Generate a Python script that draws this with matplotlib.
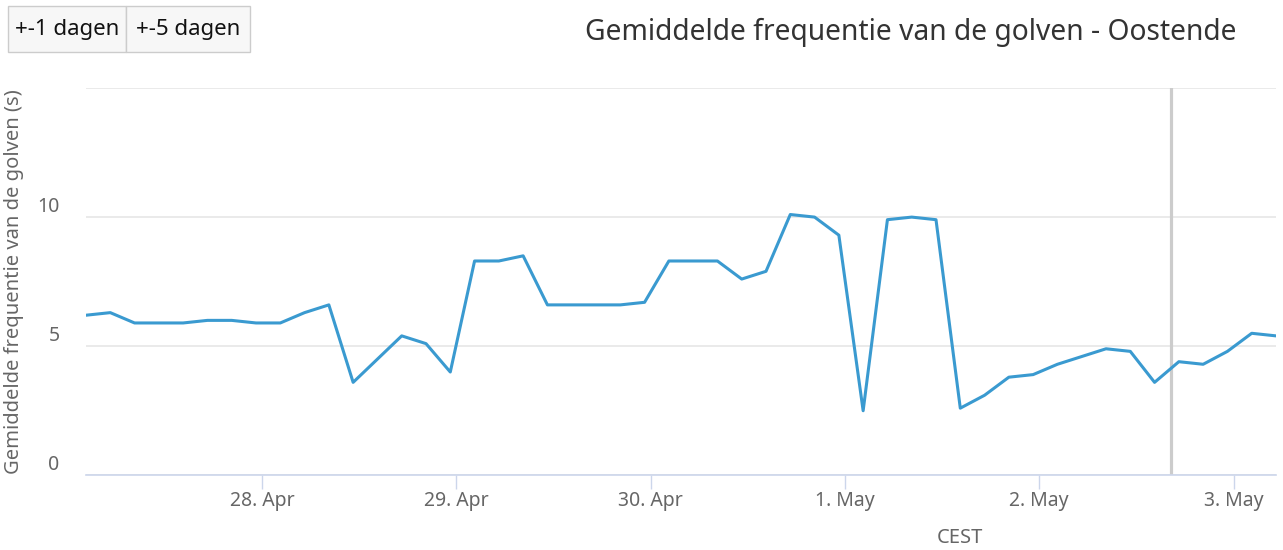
"""Wave frequency chart for Oostende (Highcharts-like look)."""

from datetime import datetime, timedelta

import matplotlib

matplotlib.use("Agg")
import matplotlib.dates as mdates
import matplotlib.pyplot as plt
from matplotlib.patches import Rectangle

plt.rcParams["font.family"] = ["Noto Sans", "DejaVu Sans"]

TITLE = "Gemiddelde frequentie van de golven - Oostende"
Y_LABEL = "Gemiddelde frequentie van de golven (s)"
X_LABEL = "CEST"
BUTTONS = ["+-1 dagen", "+-5 dagen"]

start = datetime(2017, 4, 27, 2, 15)
step_hours = 3
values = [
    6.2, 6.3, 5.9, 5.9, 5.9, 6.0, 6.0, 5.9, 5.9, 6.3,
    6.6, 3.6, 4.5, 5.4, 5.1, 4.0, 8.3, 8.3, 8.5, 6.6,
    6.6, 6.6, 6.6, 6.7, 8.3, 8.3, 8.3, 7.6, 7.9, 10.1,
    10.0, 9.3, 2.5, 9.9, 10.0, 9.9, 2.6, 3.1, 3.8, 3.9,
    4.3, 4.6, 4.9, 4.8, 3.6, 4.4, 4.3, 4.8, 5.5, 5.4,
]
times = [start + timedelta(hours=step_hours * i) for i in range(len(values))]
now_marker = datetime(2017, 5, 2, 16, 15)
y_ticks = [0, 5, 10, 15]

W, H = 1283, 550
fig = plt.figure(figsize=(W / 100, H / 100), dpi=100)
ax = fig.add_axes([86 / W, (H - 475.3) / H, (1276 - 86) / W, (475.3 - 88) / H])

ax.plot(times, values, color="#3a9ad0", linewidth=2.2, solid_joinstyle="round", zorder=3)
ax.axvline(now_marker, color="#cccccc", linewidth=2.3, zorder=2)

ax.set_xlim(times[0], times[-1])
ax.set_ylim(0, 15)
ax.set_yticks(y_ticks)
ax.set_yticklabels([str(v) if v < 15 else "" for v in y_ticks])
ax.yaxis.grid(True, color="#e6e6e6", linewidth=1.2)
ax.set_axisbelow(True)

ax.xaxis.set_major_locator(mdates.DayLocator())
ax.xaxis.set_major_formatter(
    matplotlib.ticker.FuncFormatter(lambda x, _: mdates.num2date(x).strftime("%-d. %b"))
)

for side in ["top", "right", "left"]:
    ax.spines[side].set_visible(False)
ax.spines["bottom"].set_color("#ccd6eb")
ax.spines["bottom"].set_linewidth(1.2)

ax.tick_params(axis="x", colors="#ccd6eb", length=10, width=1, labelcolor="#666666",
               labelsize=14, pad=1)
ax.tick_params(axis="y", length=0, labelcolor="#666666", labelsize=14, pad=19)
for lbl in ax.get_yticklabels():
    lbl.set_verticalalignment("bottom")

ax.set_ylabel(Y_LABEL, color="#666666", fontsize=14.5)
ax.yaxis.set_label_coords(-62 / (1276 - 86), 0.5)
fig.text(960 / W, 1 - 538 / H, X_LABEL, color="#666666", fontsize=14.5,
         ha="center", va="center")

fig.text(911 / W, 1 - 32 / H, TITLE, color="#333333", fontsize=20.3,
         ha="center", va="center")

# range buttons
bx, by, bh = 8, 6, 46
bws = [118, 124]
x0 = bx
for label, bw in zip(BUTTONS, bws):
    fig.patches.append(Rectangle((x0 / W, 1 - (by + bh) / H), bw / W, bh / H,
                                 transform=fig.transFigure, facecolor="#f7f7f7",
                                 edgecolor="#cccccc", linewidth=1))
    fig.text((x0 + bw / 2) / W, 1 - (by + bh / 2) / H, label, color="#111111",
             fontsize=16, ha="center", va="center")
    x0 += bw

fig.savefig("out.png", dpi=100)
